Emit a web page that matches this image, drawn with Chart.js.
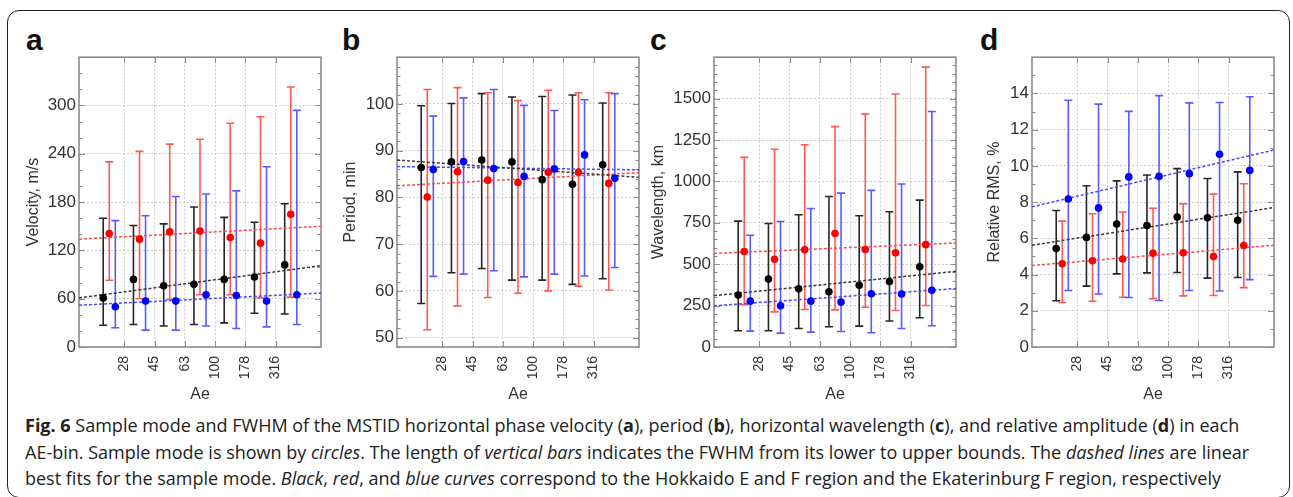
<!DOCTYPE html>
<html><head><meta charset="utf-8">
<script src="https://cdn.jsdelivr.net/npm/chart.js@4.4.0/dist/chart.umd.min.js"></script>
<style>
html,body{margin:0;padding:0;background:#fff}
body{width:1293px;height:497px;overflow:hidden;position:relative;font-family:Arial,"Liberation Sans",sans-serif}
#frame{position:absolute;left:7px;top:10px;width:1283px;height:488px;border:1.5px solid #222;border-radius:12px;box-sizing:border-box}
.panel{position:absolute;top:44px;width:325px;height:360px}
.letter{position:absolute;font-family:Arial,"Liberation Sans",sans-serif;font-weight:bold;font-size:30px;line-height:30px;color:#111;top:25px}
#caption{position:absolute;left:25px;top:412px;font-family:"Open Sans",sans-serif;font-size:18px;line-height:26.5px;color:#222;white-space:nowrap}
#caption i{font-style:italic}
</style>
</head><body>
<div id="frame"></div>
<div class="letter" style="left:26px">a</div>
<div class="letter" style="left:342px">b</div>
<div class="letter" style="left:650px">c</div>
<div class="letter" style="left:980px">d</div>
<canvas id="pa" class="panel" width="325" height="360" style="left:4px"></canvas>
<canvas id="pb" class="panel" width="325" height="360" style="left:322px"></canvas>
<canvas id="pc" class="panel" width="325" height="360" style="left:639px"></canvas>
<canvas id="pd" class="panel" width="325" height="360" style="left:957px"></canvas>
<div id="caption"><b>Fig. 6</b> Sample mode and FWHM of the MSTID horizontal phase velocity (<b>a</b>), period (<b>b</b>), horizontal wavelength (<b>c</b>), and relative amplitude (<b>d</b>) in each<br>AE-bin. Sample mode is shown by <i>circles</i>. The length of <i>vertical bars</i> indicates the FWHM from its lower to upper bounds. The <i>dashed lines</i> are linear<br>best fits for the sample mode. <i>Black</i>, <i>red</i>, and <i>blue curves</i> correspond to the Hokkaido E and F region and the Ekaterinburg F region, respectively</div>
<script>
// ---- categories / ticks ----
const aeBins = [0, 1, 2, 3, 4, 5, 6];
const aeTickPos = [0.5, 1.5, 2.5, 3.5, 4.5, 5.5];
const aeLabels = ['28', '45', '63', '100', '178', '316'];
const fitX = [-1, 7];

// ---- (a) velocity, m/s ----
const velTicks = [0, 60, 120, 180, 240, 300];
const velModeE = [61, 84, 76, 78, 84, 87, 102];
const velLoE   = [27, 28, 26, 28, 30, 42, 41];
const velHiE   = [160, 151, 153, 174, 161, 155, 178];
const velModeF = [141, 134, 143, 144, 136, 129, 165];
const velLoF   = [83, 60, 59, 65, 65, 61, 62];
const velHiF   = [230, 243, 252, 258, 278, 286, 323];
const velModeK = [50, 57, 57, 65, 64, 57, 65];
const velLoK   = [24, 21, 21, 26, 23, 25, 28];
const velHiK   = [157, 163, 187, 190, 194, 224, 294];
const velFitE = [61, 101], velFitF = [134, 150], velFitK = [52, 67];

// ---- (b) period, min ----
const perTicks = [50, 60, 70, 80, 90, 100];
const perModeE = [86.4, 87.6, 88.0, 87.6, 83.8, 82.8, 87.0];
const perLoE   = [57.3, 63.9, 64.8, 62.3, 62.3, 61.4, 62.6];
const perHiE   = [99.6, 100.1, 102.2, 101.5, 101.6, 101.9, 100.2];
const perModeF = [80.1, 85.5, 83.7, 83.2, 85.4, 85.4, 83.0];
const perLoF   = [51.7, 56.8, 58.6, 59.5, 60.0, 61.0, 60.2];
const perHiF   = [103.1, 103.5, 102.4, 100.7, 102.9, 102.4, 102.4];
const perModeK = [86.0, 87.7, 86.2, 84.5, 86.1, 89.1, 84.1];
const perLoK   = [63.1, 63.6, 64.3, 63.0, 63.6, 63.2, 65.0];
const perHiK   = [97.4, 101.3, 103.1, 99.7, 98.6, 100.9, 102.2];
const perFitE = [88.0, 84.3], perFitF = [82.5, 85.3], perFitK = [86.6, 85.9];

// ---- (c) wavelength, km ----
const wlTicks = [0, 250, 500, 750, 1000, 1250, 1500];
const wlModeE = [314, 410, 351, 334, 373, 395, 485];
const wlLoE   = [98, 98, 112, 122, 126, 157, 177];
const wlHiE   = [760, 746, 799, 909, 793, 817, 887];
const wlModeF = [577, 530, 587, 685, 589, 569, 618];
const wlLoF   = [255, 212, 226, 224, 240, 220, 251];
const wlHiF   = [1145, 1194, 1221, 1331, 1406, 1528, 1690];
const wlModeK = [277, 249, 277, 271, 322, 320, 342];
const wlLoK   = [96, 84, 90, 94, 86, 112, 128];
const wlHiK   = [675, 758, 836, 929, 946, 984, 1422];
const wlFitE = [310, 457], wlFitF = [565, 628], wlFitK = [249, 353];

// ---- (d) relative RMS, % ----
const rmsTicks = [0, 2, 4, 6, 8, 10, 12, 14];
const rmsModeE = [5.44, 6.05, 6.79, 6.71, 7.18, 7.14, 7.0];
const rmsLoE   = [2.55, 3.36, 4.04, 4.09, 4.11, 3.8, 3.84];
const rmsHiE   = [7.54, 8.9, 9.17, 9.5, 9.85, 9.3, 9.67];
const rmsModeF = [4.6, 4.76, 4.86, 5.17, 5.2, 4.99, 5.6];
const rmsLoF   = [2.46, 2.53, 2.75, 2.67, 2.82, 2.84, 3.28];
const rmsHiF   = [6.95, 7.36, 7.45, 7.66, 7.9, 8.44, 9.01];
const rmsModeK = [8.17, 7.68, 9.39, 9.42, 9.57, 10.64, 9.75];
const rmsLoK   = [3.12, 2.93, 2.73, 2.57, 3.12, 3.09, 3.72];
const rmsHiK   = [13.62, 13.41, 13.01, 13.88, 13.48, 13.5, 13.82];
const rmsFitE = [5.62, 7.7], rmsFitF = [4.5, 5.62], rmsFitK = [7.74, 10.88];

// ---- styling ----
const FONT = 'Arial, "Liberation Sans", Helvetica, sans-serif';
const STY = {
  E: {pt: '#000000', bar: '#262626', fit: '#3a3a3a', off: -0.2},
  F: {pt: '#ff0000', bar: '#ff5a5a', fit: '#ff4a4a', off: 0},
  K: {pt: '#0000ff', bar: '#5a5aff', fit: '#4a4aff', off: 0.2}
};

const errorBars = {
  id: 'errorBars',
  beforeDatasetsDraw(chart) {
    const ctx = chart.ctx, xs = chart.scales.x, ys = chart.scales.y;
    chart.data.datasets.forEach(ds => {
      if (!ds.lo) return;
      ctx.save();
      ctx.strokeStyle = ds.barColor;
      ctx.lineWidth = 1.6;
      ds.data.forEach((p, i) => {
        const x = xs.getPixelForValue(p.x);
        const y1 = ys.getPixelForValue(ds.lo[i]);
        const y2 = ys.getPixelForValue(ds.hi[i]);
        ctx.beginPath();
        ctx.moveTo(x, y1); ctx.lineTo(x, y2);
        ctx.moveTo(x - 4, y1); ctx.lineTo(x + 4, y1);
        ctx.moveTo(x - 4, y2); ctx.lineTo(x + 4, y2);
        ctx.stroke();
      });
      ctx.restore();
    });
  }
};

const boxFrame = {
  id: 'boxFrame',
  beforeDatasetsDraw(chart, args, opts) {
    const {ctx, chartArea: a, scales: {x, y}} = chart;
    ctx.save();
    ctx.strokeStyle = '#8c8c8c';
    ctx.lineWidth = 1;
    ctx.beginPath();
    const m = opts.minor;
    const start = Math.ceil(y.min / m - 1e-9) * m;
    for (let v = start; v <= y.max + 1e-9; v += m) {
      const py = Math.round(y.getPixelForValue(v)) + 0.5;
      const major = y.ticks.some(t => Math.abs(t.value - v) < 1e-6);
      const L = major ? 6 : 3.5;
      ctx.moveTo(a.left, py); ctx.lineTo(a.left + L, py);
      ctx.moveTo(a.right, py); ctx.lineTo(a.right - L, py);
    }
    x.ticks.forEach(t => {
      const px = Math.round(x.getPixelForValue(t.value)) + 0.5;
      ctx.moveTo(px, a.top); ctx.lineTo(px, a.top + 6);
      ctx.moveTo(px, a.bottom); ctx.lineTo(px, a.bottom - 6);
    });
    ctx.stroke();
    ctx.lineWidth = 1.6;
    ctx.strokeRect(a.left, a.top, a.right - a.left, a.bottom - a.top);
    ctx.restore();
  }
};

function series(key, mode, lo, hi) {
  const s = STY[key];
  return {
    type: 'scatter',
    data: aeBins.map((b, i) => ({x: b + s.off, y: mode[i]})),
    lo: lo, hi: hi, barColor: s.bar,
    pointRadius: 3.8, pointHoverRadius: 3.8,
    backgroundColor: s.pt, borderWidth: 0, order: 1
  };
}
function fit(key, vals) {
  const s = STY[key];
  return {
    type: 'line',
    data: fitX.map((x, i) => ({x: x, y: vals[i]})),
    borderColor: s.fit, borderWidth: 1.5, borderDash: [3, 2],
    pointRadius: 0, fill: false, order: 2
  };
}

function makePanel(id, p) {
  const gridCol = '#cdcdcd';
  new Chart(document.getElementById(id), {
    data: {datasets: [
      series('E', p.mE, p.lE, p.hE),
      series('F', p.mF, p.lF, p.hF),
      series('K', p.mK, p.lK, p.hK),
      fit('E', p.fE), fit('F', p.fF), fit('K', p.fK)
    ]},
    options: {
      animation: false, responsive: false, maintainAspectRatio: false,
      layout: {padding: {top: 5, right: 8, left: 0, bottom: 0}},
      plugins: {legend: {display: false}, tooltip: {enabled: false}, boxFrame: {minor: p.minor}},
      scales: {
        x: {
          type: 'linear', min: -1, max: 7,
          afterBuildTicks: s => { s.ticks = aeTickPos.map(v => ({value: v})); },
          afterFit: s => { s.height = 57; },
          ticks: {callback: (v, i) => aeLabels[i], minRotation: 90, maxRotation: 90, autoSkip: false,
                  padding: 9, font: {size: 14, family: FONT}, color: '#333'},
          grid: {color: gridCol, drawTicks: false, lineWidth: 1},
          border: {display: false, dash: [2, 2]},
          title: {display: true, text: 'Ae', color: '#333', font: {size: 16, family: FONT},
                  padding: {top: 0, bottom: 0}}
        },
        y: {
          type: 'linear', min: p.min, max: p.max,
          afterBuildTicks: s => { s.ticks = p.ticks.map(v => ({value: v})); },
          afterFit: s => { s.width = 75; },
          ticks: {callback: v => String(v), padding: 3, font: {size: 17, family: FONT}, color: '#333'},
          grid: {color: gridCol, drawTicks: false, lineWidth: 1},
          border: {display: false, dash: [2, 2]},
          title: {display: true, text: p.title, color: '#333', font: {size: 16, family: FONT},
                  padding: {top: p.tpad, bottom: 0}}
        }
      }
    },
    plugins: [errorBars, boxFrame]
  });
}

function drawAll() {
  makePanel('pa', {title: 'Velocity, m/s', min: 0, max: 360, ticks: velTicks, minor: 20, tpad: 20,
    mE: velModeE, lE: velLoE, hE: velHiE, mF: velModeF, lF: velLoF, hF: velHiF, mK: velModeK, lK: velLoK, hK: velHiK,
    fE: velFitE, fF: velFitF, fK: velFitK});
  makePanel('pb', {title: 'Period, min', min: 48, max: 110, ticks: perTicks, minor: 2, tpad: 19,
    mE: perModeE, lE: perLoE, hE: perHiE, mF: perModeF, lF: perLoF, hF: perHiF, mK: perModeK, lK: perLoK, hK: perHiK,
    fE: perFitE, fF: perFitF, fK: perFitK});
  makePanel('pc', {title: 'Wavelength, km', min: 0, max: 1750, ticks: wlTicks, minor: 50, tpad: 10,
    mE: wlModeE, lE: wlLoE, hE: wlHiE, mF: wlModeF, lF: wlLoF, hF: wlHiF, mK: wlModeK, lK: wlLoK, hK: wlHiK,
    fE: wlFitE, fF: wlFitF, fK: wlFitK});
  makePanel('pd', {title: 'Relative RMS, %', min: 0, max: 16, ticks: rmsTicks, minor: 1, tpad: 28,
    mE: rmsModeE, lE: rmsLoE, hE: rmsHiE, mF: rmsModeF, lF: rmsLoF, hF: rmsHiF, mK: rmsModeK, lK: rmsLoK, hK: rmsHiK,
    fE: rmsFitE, fF: rmsFitF, fK: rmsFitK});
}
drawAll();
</script>
</body></html>
